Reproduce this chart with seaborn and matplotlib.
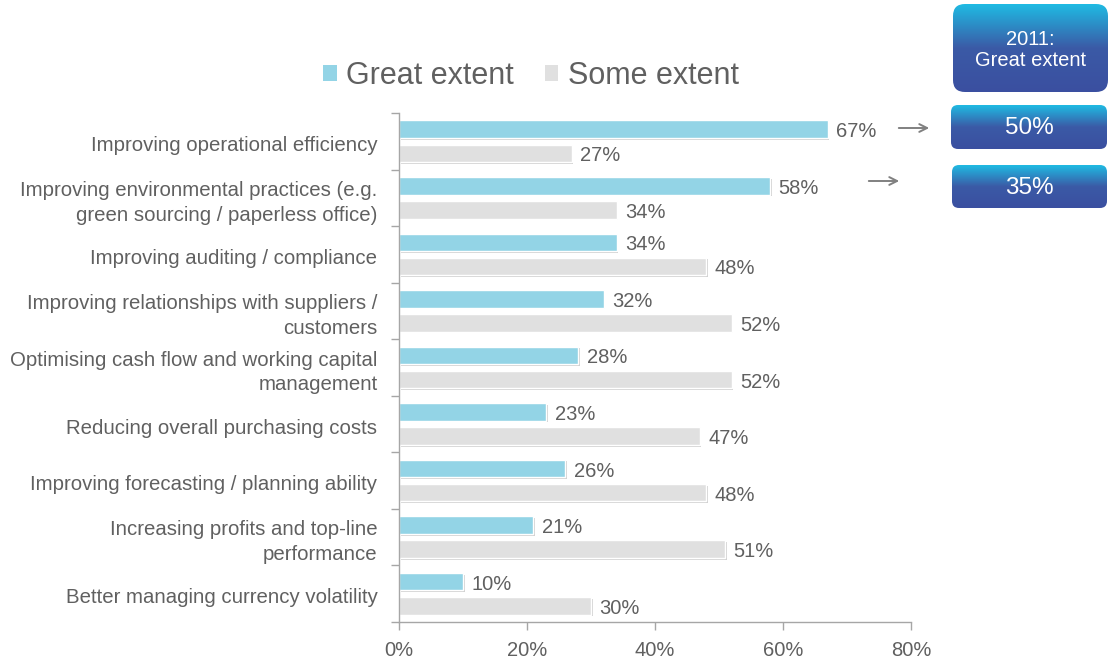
import numpy as np
import pandas as pd
import seaborn as sns
import matplotlib.pyplot as plt
import matplotlib.transforms as mtransforms
from matplotlib.patches import FancyBboxPatch
from matplotlib import patheffects as pe
from matplotlib.colors import LinearSegmentedColormap

categories = [
    "Improving operational efficiency",
    "Improving environmental practices (e.g.\ngreen sourcing / paperless office)",
    "Improving auditing / compliance",
    "Improving relationships with suppliers /\ncustomers",
    "Optimising cash flow and working capital\nmanagement",
    "Reducing overall purchasing costs",
    "Improving forecasting / planning ability",
    "Increasing profits and top-line\nperformance",
    "Better managing currency volatility",
]
great_extent = [67, 58, 34, 32, 28, 23, 26, 21, 10]
some_extent = [27, 34, 48, 52, 52, 47, 48, 51, 30]
series_names = ["Great extent", "Some extent"]
x_ticks = [0, 20, 40, 60, 80]

box_title = "2011:\nGreat extent"
box_values = ["50%", "35%"]

df = pd.DataFrame({
    "category": categories * 2,
    "value": great_extent + some_extent,
    "series": [series_names[0]] * len(categories) + [series_names[1]] * len(categories),
})

sns.set_theme(style="white")
plt.rcParams["font.family"] = ["Liberation Sans", "DejaVu Sans"]

TEXT = "#606060"
AXIS = "#a6a6a6"
palette = {"Great extent": "#93d4e6", "Some extent": "#e0e0e0"}

fig = plt.figure(figsize=(11.10, 6.62), dpi=100)
ax = fig.add_axes([399 / 1110, 1 - 622 / 662, (911 - 399) / 1110, (622 - 113) / 662])

sns.barplot(data=df, y="category", x="value", hue="series", order=categories,
            hue_order=series_names, palette=palette, saturation=1, orient="h",
            width=0.85, gap=0.27, ax=ax, edgecolor="white", linewidth=1.0, legend=True)

shadow = [pe.SimplePatchShadow(offset=(1.2, -1.2), shadow_rgbFace="#9a9a9a", alpha=0.45),
          pe.Normal()]
for patch in ax.patches:
    patch.set_path_effects(shadow)

for container in ax.containers:
    texts = ax.bar_label(container, labels=[f"{v:.0f}%" for v in container.datavalues],
                         padding=6, fontsize=14.5, color=TEXT)
    for t in texts:
        t.xyann = (6, -1.8)

ax.set_xlim(0, 80)
ax.set_ylim(len(categories) - 0.5, -0.5)
ax.set_xticks(x_ticks)
ax.set_xticklabels([f"{t}%" for t in x_ticks], fontsize=14.5, color=TEXT)
ax.set_yticks(range(len(categories)))
ax.set_yticklabels(categories, fontsize=14.7, color=TEXT, linespacing=1.4)
ax.set_yticks(np.arange(-0.5, len(categories)), minor=True)
ax.tick_params(axis="y", which="major", length=0, pad=15.5)
ax.tick_params(axis="y", which="minor", length=6, width=1, color=AXIS, left=True)
ax.tick_params(axis="x", which="major", length=6, width=1, color=AXIS, bottom=True,
               pad=8)
# single-line labels sit a touch lower than the category centre
shift_down = mtransforms.ScaledTranslation(0, -2 / 100, fig.dpi_scale_trans)
for lbl in ax.get_yticklabels():
    if "\n" not in lbl.get_text():
        lbl.set_transform(lbl.get_transform() + shift_down)
ax.set_xlabel("")
ax.set_ylabel("")
for side in ["top", "right"]:
    ax.spines[side].set_visible(False)
for side in ["left", "bottom"]:
    ax.spines[side].set_color(AXIS)
    ax.spines[side].set_linewidth(1)

handles, labels = ax.get_legend_handles_labels()
ax.get_legend().remove()
for h in handles:
    h.set_edgecolor("none")
    h.set_path_effects([])
leg = fig.legend(handles, labels, loc="center", bbox_to_anchor=(531 / 1110, 1 - 76 / 662),
                 ncol=2, frameon=False, fontsize=22, handlelength=0.45, handleheight=0.45,
                 handletextpad=0.3, columnspacing=1.0)
for t in leg.get_texts():
    t.set_color(TEXT)

# Overlay in pixel coordinates for the side boxes and arrows
ov = fig.add_axes([0, 0, 1, 1], zorder=5)
ov.patch.set_alpha(0)
ov.axis("off")

grad = LinearSegmentedColormap.from_list("boxgrad", ["#1fbbe3", "#3b5aa6", "#3a4fa0"])
gradient = np.linspace(0, 1, 256).reshape(-1, 1)


def gradient_box(x0, y0, x1, y1, text, size, radius, dy=0):
    patch = FancyBboxPatch((x0, y0), x1 - x0, y1 - y0,
                           boxstyle=f"round,pad=0,rounding_size={radius}",
                           facecolor="none", edgecolor="none")
    ov.add_patch(patch)
    im = ov.imshow(gradient, cmap=grad, extent=(x0, x1, y1, y0), aspect="auto",
                   interpolation="bicubic")
    im.set_clip_path(patch)
    ov.text((x0 + x1) / 2, (y0 + y1) / 2 + dy, text, ha="center", va="center",
            color="white", fontsize=size, linespacing=1.1)


gradient_box(953, 4, 1108, 92, box_title, 14.5, 12, dy=2)
gradient_box(951, 105, 1107, 149, box_values[0], 17.5, 7, dy=1.5)
gradient_box(952, 165, 1107, 208, box_values[1], 17.5, 7, dy=1.5)

arrow = dict(arrowstyle="->", color="#808080", lw=1.4, mutation_scale=14)
ov.annotate("", xy=(932, 128), xytext=(896, 128), arrowprops=arrow)
ov.annotate("", xy=(902, 181), xytext=(866, 181), arrowprops=arrow)

ov.set_xlim(0, 1110)
ov.set_ylim(662, 0)

fig.savefig("out.png", dpi=100)
